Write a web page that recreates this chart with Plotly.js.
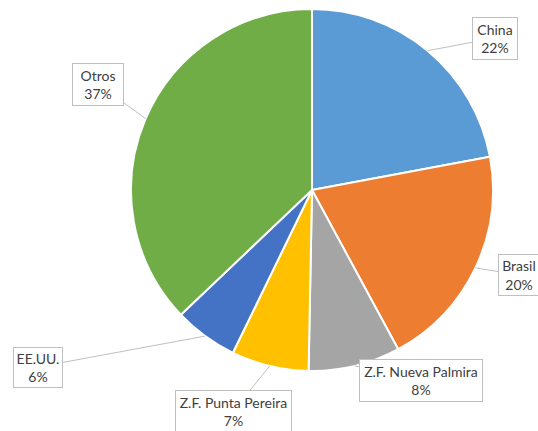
<!DOCTYPE html>
<html>
<head>
<meta charset="utf-8">
<script src="https://cdn.plot.ly/plotly-3.0.1.min.js"></script>
<style>html,body{margin:0;padding:0;background:#fff;}#chart{width:538px;height:431px;}</style>
</head>
<body>
<div id="chart"></div>
<script>
// Data
var categories = ["China", "Brasil", "Z.F. Nueva Palmira", "Z.F. Punta Pereira", "EE.UU.", "Otros"];
var shares = [22.05, 20.05, 8.2, 6.9, 5.7, 37.1];
var colors = ["#5B9BD5", "#ED7D31", "#A5A5A5", "#FFC000", "#4472C4", "#70AD47"];

// Layout geometry
var W = 538, H = 431;
var M = {l: 131, r: 45, t: 9, b: 60};
var plotW = W - M.l - M.r, plotH = H - M.t - M.b;
// label box centers (pixels) and sizes
var boxCenters = [[495, 38], [519, 275], [421, 380], [233, 411], [38, 367], [98, 84]];
var boxSizes = [[44, 41], [40, 40], [122, 41], [115, 41], [48, 39], [50, 41]];

var total = shares.reduce(function(a, b){return a + b;}, 0);
var cum = 0;
var annotations = [];
for (var i = 0; i < shares.length; i++) {
  var mid = (cum + shares[i] / 2) / total * 2 * Math.PI;
  cum += shares[i];
  var tx = 0.5 + 0.5 * Math.sin(mid);
  var ty = 0.5 + 0.5 * Math.cos(mid);
  var tpx = M.l + tx * plotW;
  var tpy = M.t + (1 - ty) * plotH;
  annotations.push({
    xref: "paper", yref: "paper", x: tx, y: ty,
    text: categories[i] + "<br>" + Math.round(shares[i] / total * 100) + "%",
    showarrow: true, arrowhead: 0, arrowwidth: 1, arrowcolor: "#BFBFBF",
    standoff: 0, startstandoff: 0,
    ax: boxCenters[i][0] - tpx, ay: boxCenters[i][1] - tpy,
    bordercolor: "#BFBFBF", borderwidth: 1, borderpad: 0, bgcolor: "#FFFFFF",
    width: boxSizes[i][0], height: boxSizes[i][1],
    font: {family: "Lato, 'Open Sans', sans-serif", size: 14, color: "#404040"},
    align: "center", valign: "middle"
  });
}

var trace = {
  type: "pie",
  labels: categories,
  values: shares,
  sort: false,
  direction: "clockwise",
  rotation: 0,
  textinfo: "none",
  hoverinfo: "label+percent",
  marker: {colors: colors, line: {color: "#FFFFFF", width: 2}},
  showlegend: false
};

var layout = {
  width: W, height: H,
  margin: M,
  paper_bgcolor: "#FFFFFF",
  plot_bgcolor: "#FFFFFF",
  showlegend: false,
  annotations: annotations
};

Plotly.newPlot("chart", [trace], layout, {displayModeBar: false, staticPlot: true});
</script>
</body>
</html>
